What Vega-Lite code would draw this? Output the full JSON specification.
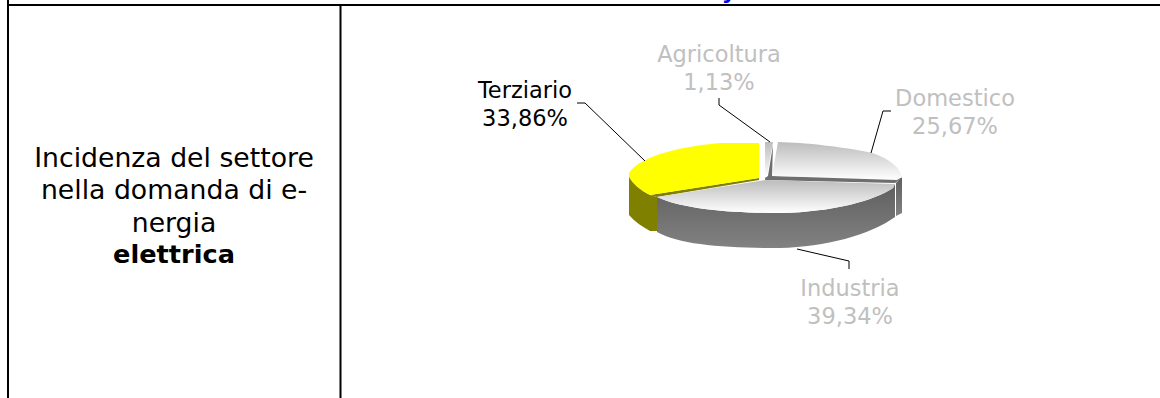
{"$schema":"https://vega.github.io/schema/vega-lite/v6.json","width":1160,"height":398,"padding":0,"autosize":{"type":"none"},"background":"white","config":{"view":{"stroke":null}},"datasets":{"faces":[{"sector":"Terziario","share":33.86,"piece":"tz_side","cx":765,"cy":180},{"sector":"Terziario","share":33.86,"piece":"tz_cut","cx":765,"cy":180},{"sector":"Terziario","share":33.86,"piece":"tz_edge","cx":765,"cy":180},{"sector":"Terziario","share":33.86,"piece":"tz_top","cx":765,"cy":180},{"sector":"Industria","share":39.34,"piece":"in_side","cx":765,"cy":180},{"sector":"Industria","share":39.34,"piece":"in_top","cx":765,"cy":180},{"sector":"Domestico","share":25.67,"piece":"do_side","cx":765,"cy":180},{"sector":"Domestico","share":25.67,"piece":"do_strip","cx":765,"cy":180},{"sector":"Domestico","share":25.67,"piece":"do_top","cx":765,"cy":180},{"sector":"Agricoltura","share":1.13,"piece":"ag_strip","cx":765,"cy":180},{"sector":"Agricoltura","share":1.13,"piece":"ag_top","cx":765,"cy":180}],"leaders":[{"leader":"Terziario","seq":1,"x":577,"y":103},{"leader":"Terziario","seq":2,"x":585,"y":103},{"leader":"Terziario","seq":3,"x":645,"y":161},{"leader":"Agricoltura","seq":1,"x":719,"y":98},{"leader":"Agricoltura","seq":2,"x":719,"y":105},{"leader":"Agricoltura","seq":3,"x":770,"y":142},{"leader":"Domestico","seq":1,"x":891,"y":111},{"leader":"Domestico","seq":2,"x":883,"y":111},{"leader":"Domestico","seq":3,"x":871,"y":153},{"leader":"Industria","seq":1,"x":797,"y":249},{"leader":"Industria","seq":2,"x":849,"y":261},{"leader":"Industria","seq":3,"x":849,"y":269}],"rules":[{"x":8,"y":0,"x2":8,"y2":398},{"x":340.5,"y":5,"x2":340.5,"y2":398},{"x":8,"y":5,"x2":1160,"y2":5}],"labels":[{"text":"Terziario","tone":"dark","x":525,"y":98},{"text":"33,86%","tone":"dark","x":525,"y":126},{"text":"Agricoltura","tone":"light","x":719,"y":62},{"text":"1,13%","tone":"light","x":719,"y":90},{"text":"Domestico","tone":"light","x":955,"y":106},{"text":"25,67%","tone":"light","x":955,"y":134},{"text":"Industria","tone":"light","x":850,"y":296},{"text":"39,34%","tone":"light","x":850,"y":324}],"body":[{"text":"Incidenza del settore","x":174,"y":167,"w":"normal"},{"text":"nella domanda di e-","x":174,"y":199,"w":"normal"},{"text":"nergia","x":174,"y":232,"w":"normal"},{"text":"elettrica","x":174,"y":263,"w":"bold"}],"stub":[{"text":"y","x":729,"y":-1}]},"encoding":{"x":{"type":"quantitative","axis":null,"scale":{"domain":[0,1160],"nice":false,"zero":false}},"y":{"type":"quantitative","axis":null,"scale":{"domain":[0,398],"nice":false,"zero":false,"reverse":true}}},"layer":[{"data":{"name":"rules"},"mark":{"type":"rule","color":"black","strokeWidth":2,"clip":false},"encoding":{"x":{"field":"x"},"y":{"field":"y"},"x2":{"field":"x2"},"y2":{"field":"y2"}}},{"data":{"name":"faces"},"encoding":{"x":{"field":"cx"},"y":{"field":"cy"},"shape":{"field":"piece","type":"nominal","legend":null,"scale":{"domain":["tz_side","tz_cut","tz_edge","tz_top","in_side","in_top","do_side","do_strip","do_top","ag_strip","ag_top"],"range":["M-136,-5 L-136,35 C-130,42 -122,47 -115,51 L-115,15 C-125,10 -133,3 -136,-5 Z","M-115,15 L-108,17 L-108,51 L-115,51 Z","M-115,15 L-6,-2 L-6,0 L-108,17 Z","M-6,-37 L-45,-37 C-80,-34 -125,-25 -136,-7 L-136,-3 C-133,3 -125,10 -115,15 L-6,-2 Z","M-108,17 C-80,30 -30,33 15,33 C70,32 110,20 128,8 L130,4 L130,37 C105,55 60,67 15,68 C-40,68 -85,65 -108,52 Z","M-108,17 L1,0 L130,4 L128,8 C110,20 70,32 15,33 C-30,33 -80,30 -108,17 Z","M137,-3 L137,33 L131,36 L131,3 Z","M7,-4 L137,-2 L130,3 L0,0 Z","M13,-38 L35,-37 C60,-35 90,-31 107,-27 C120,-23 135,-14 137,-3 L132,0 L7,-4 Z","M8,-35 L7,-3 L0,0 L0,-2 L3,-4 Z","M0,-38 L8,-38 L2,-4 L0,-3 Z"]}}},"layer":[{"transform":[{"filter":"indexof(['tz_side','tz_cut','tz_edge'],datum.piece)>=0"}],"mark":{"type":"point","filled":true,"size":4,"opacity":1,"fill":"#808000","strokeWidth":0,"clip":false}},{"transform":[{"filter":"datum.piece=='tz_top'"}],"mark":{"type":"point","filled":true,"size":4,"opacity":1,"fill":"#ffff00","strokeWidth":0}},{"transform":[{"filter":"datum.piece=='in_side'||datum.piece=='do_side'"}],"mark":{"type":"point","filled":true,"size":4,"opacity":1,"strokeWidth":0,"fill":{"gradient":"linear","x1":0,"y1":0,"x2":0,"y2":1,"stops":[{"offset":0,"color":"#5f5f5f"},{"offset":1,"color":"#828282"}]}}},{"transform":[{"filter":"datum.piece=='do_strip'||datum.piece=='ag_strip'"}],"mark":{"type":"point","filled":true,"size":4,"opacity":1,"fill":"#6e6e6e","strokeWidth":0}},{"transform":[{"filter":"indexof(['in_top','do_top','ag_top'],datum.piece)>=0"}],"mark":{"type":"point","filled":true,"size":4,"opacity":1,"strokeWidth":0,"fill":{"gradient":"linear","x1":0,"y1":0,"x2":0,"y2":1,"stops":[{"offset":0,"color":"#bcbcbc"},{"offset":1,"color":"#ffffff"}]}}}]},{"data":{"name":"leaders"},"mark":{"type":"line","color":"black","strokeWidth":1},"encoding":{"x":{"field":"x"},"y":{"field":"y"},"detail":{"field":"leader"},"order":{"field":"seq","type":"ordinal"}}},{"data":{"name":"labels"},"mark":{"type":"text","font":"DejaVu Sans","fontSize":22.5,"align":"center","baseline":"alphabetic"},"encoding":{"x":{"field":"x"},"y":{"field":"y"},"text":{"field":"text"},"color":{"field":"tone","type":"nominal","legend":null,"scale":{"domain":["dark","light"],"range":["#000000","#c0c0c0"]}}}},{"data":{"name":"body"},"transform":[{"filter":"datum.w=='normal'"}],"mark":{"type":"text","font":"DejaVu Sans","fontSize":26.7,"align":"center","baseline":"alphabetic","color":"black"},"encoding":{"x":{"field":"x"},"y":{"field":"y"},"text":{"field":"text"}}},{"data":{"name":"body"},"transform":[{"filter":"datum.w=='bold'"}],"mark":{"type":"text","font":"DejaVu Sans","fontSize":25.6,"fontWeight":"bold","align":"center","baseline":"alphabetic","color":"black"},"encoding":{"x":{"field":"x"},"y":{"field":"y"},"text":{"field":"text"}}},{"data":{"name":"stub"},"mark":{"type":"text","font":"DejaVu Sans","fontSize":22,"fontWeight":"bold","align":"center","baseline":"alphabetic","color":"#0000ff","clip":false},"encoding":{"x":{"field":"x"},"y":{"field":"y"},"text":{"field":"text"}}}]}
